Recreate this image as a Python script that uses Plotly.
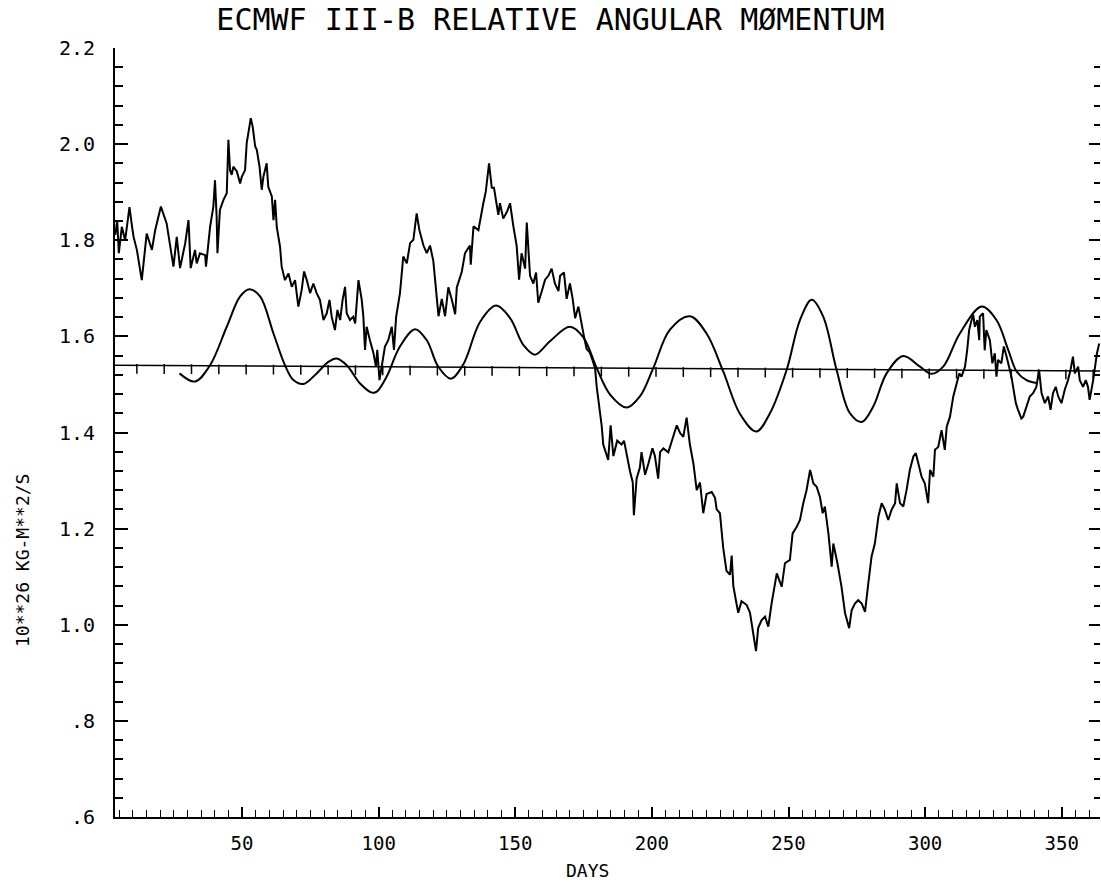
import numpy as np
import plotly.graph_objects as go

# Daily relative angular momentum (10**26 kg m^2/s)
ram_day = [3.6, 4.3, 4.9, 6.0, 7.2, 8.8, 9.7, 10.3, 11.5, 13.3, 15.1, 17.0, 18.2, 20.3, 22.4, 24.3, 24.9,
           26.1, 27.3, 29.2, 30.4, 31.2, 32.8, 33.4, 34.6, 36.5, 36.8, 38.3, 39.5, 40.1, 40.7, 41.0, 41.9,
           43.2, 44.4, 45.0, 45.6, 46.2, 46.8, 48.1, 49.3, 49.9, 51.1, 51.7, 52.3, 53.2, 53.9, 54.8, 55.4,
           56.4, 57.2, 57.8, 59.0, 59.6, 60.9, 61.5, 62.1, 62.7, 63.9, 64.5, 65.7, 67.0, 68.2, 69.4, 70.6,
           71.8, 72.7, 73.7, 74.9, 76.1, 77.3, 78.5, 79.8, 81.0, 82.0, 82.8, 84.0, 84.9, 85.9, 86.8, 87.7,
           88.3, 89.5, 90.7, 91.4, 92.2, 92.6, 93.8, 94.4, 95.0, 95.6, 96.8, 98.1, 99.0, 99.5, 100.3, 101.1,
           102.3, 103.5, 104.8, 105.6, 106.4, 107.8, 109.0, 110.3, 111.5, 112.7, 113.9, 114.9,
           116.4, 117.6, 118.8, 120.0, 121.3, 121.9, 123.1, 124.3, 125.5, 126.7, 128.0, 128.6, 130.4, 131.6,
           133.4, 133.7, 134.7, 136.5, 138.3, 139.2, 140.4, 141.4, 142.2, 143.8, 144.4, 145.6, 147.1, 148.1,
           149.3, 150.5, 151.4, 152.3, 153.6, 154.2, 155.4, 156.6, 157.6, 158.4, 159.7, 160.9, 162.1, 163.3,
           164.5, 165.8, 166.4, 167.8, 168.8, 170.0, 171.0, 171.9, 173.1, 174.3, 175.2, 176.1, 177.3, 178.3,
           179.2, 179.8, 180.8, 181.6, 182.2, 183.4, 184.0, 184.9, 185.9, 187.3, 188.9, 189.8, 190.8, 192.0,
           193.0, 193.4, 194.4, 195.6, 196.2, 197.5, 198.7, 200.2, 201.1, 202.3, 203.0, 204.2, 206.0, 207.8,
           209.1, 210.3, 211.5, 212.7, 213.9, 215.2, 216.4, 217.6, 218.8, 220.0, 221.9, 223.1, 223.7, 224.9,
           226.1, 227.3, 228.6, 229.2, 229.8, 230.8, 231.6, 232.8, 234.7, 235.9, 237.1, 238.1, 238.9, 240.1,
           241.4, 242.6, 243.8, 245.7, 247.5, 248.7, 250.5, 251.5, 253.0, 254.2, 255.4, 256.6, 257.9, 259.1,
           260.3, 261.5, 262.5, 263.3, 264.6, 265.8, 266.4, 267.9, 269.4, 270.7, 272.2, 273.1, 274.3, 275.5,
           276.8, 278.0, 279.2, 280.4, 281.6, 282.9, 284.1, 285.3, 286.5, 287.7, 289.0, 289.6, 290.8, 292.0,
           293.2, 294.4, 295.7, 296.6, 297.5, 298.7, 299.9, 301.1, 301.8, 303.0, 303.6, 304.8, 306.0, 307.2,
           307.9, 309.1, 310.3, 311.5, 312.5, 313.3, 314.6, 315.4, 316.1, 317.0, 317.6, 318.2, 319.1, 319.8,
           320.0, 321.2, 321.8, 322.4, 323.7, 324.6, 325.5, 326.1, 326.7, 327.9, 328.8, 329.8, 331.0, 331.6,
           332.2, 333.2, 334.0, 335.2, 335.9, 337.1, 338.3, 339.5, 340.7, 341.7, 342.6, 343.8, 345.0, 345.9,
           346.8, 347.8, 348.7, 349.9, 351.1, 352.3, 353.2, 354.1, 354.8, 356.0, 356.6, 357.8, 358.8, 359.6,
           360.2, 361.5, 362.1, 362.9, 363.7]
ram_val = [1.811, 1.842, 1.773, 1.828, 1.800, 1.869, 1.830, 1.807, 1.780, 1.717, 1.814, 1.780, 1.821, 1.870,
           1.835, 1.766, 1.745, 1.807, 1.742, 1.794, 1.842, 1.742, 1.780, 1.752, 1.773, 1.769, 1.745, 1.828,
           1.870, 1.925, 1.849, 1.773, 1.863, 1.884, 1.898, 2.009, 1.946, 1.936, 1.953, 1.943, 1.918, 1.932,
           1.946, 2.002, 2.022, 2.054, 2.036, 1.995, 1.988, 1.953, 1.905, 1.932, 1.960, 1.911, 1.891, 1.842,
           1.884, 1.828, 1.787, 1.745, 1.717, 1.731, 1.703, 1.717, 1.662, 1.696, 1.735, 1.717, 1.690, 1.710,
           1.690, 1.676, 1.634, 1.648, 1.676, 1.641, 1.613, 1.655, 1.634, 1.676, 1.703, 1.648, 1.634, 1.641,
           1.627, 1.696, 1.717, 1.676, 1.641, 1.572, 1.620, 1.592, 1.565, 1.537, 1.572, 1.509, 1.537, 1.579,
           1.592, 1.620, 1.572, 1.641, 1.690, 1.766, 1.752, 1.794, 1.801, 1.856, 1.821,
           1.789, 1.773, 1.789, 1.757, 1.678, 1.642, 1.678, 1.642, 1.702, 1.678, 1.646, 1.702, 1.734, 1.773,
           1.789, 1.749, 1.829, 1.821, 1.877, 1.901, 1.960, 1.909, 1.909, 1.853, 1.877, 1.845, 1.861, 1.877,
           1.829, 1.789, 1.718, 1.773, 1.741, 1.837, 1.726, 1.710, 1.733, 1.670, 1.694, 1.718, 1.726, 1.741,
           1.710, 1.694, 1.726, 1.733, 1.678, 1.710, 1.678, 1.638, 1.662, 1.622, 1.598, 1.574, 1.566, 1.550,
           1.534, 1.495, 1.455, 1.415, 1.375, 1.351, 1.343, 1.415, 1.351, 1.383, 1.375, 1.383, 1.351, 1.319,
           1.296, 1.228, 1.304, 1.327, 1.359, 1.312, 1.335, 1.367, 1.351, 1.304, 1.359, 1.367, 1.359, 1.391,
           1.415, 1.399, 1.391, 1.431, 1.375, 1.335, 1.280, 1.296, 1.232, 1.272, 1.276, 1.264, 1.240, 1.232,
           1.160, 1.112, 1.104, 1.144, 1.081, 1.049, 1.025, 1.049, 1.041, 1.025, 0.977, 0.945, 0.993, 1.009,
           1.017, 0.996, 1.044, 1.107, 1.079, 1.128, 1.135, 1.190, 1.204, 1.218, 1.253, 1.280, 1.322, 1.294,
           1.287, 1.266, 1.232, 1.246, 1.190, 1.121, 1.169, 1.128, 1.079, 1.024, 0.993, 1.030, 1.044, 1.051,
           1.044, 1.027, 1.086, 1.142, 1.169, 1.225, 1.253, 1.239, 1.218, 1.239, 1.253, 1.294, 1.253, 1.246,
           1.280, 1.322, 1.350, 1.357, 1.336, 1.308, 1.294, 1.253, 1.322, 1.308, 1.364, 1.370, 1.405, 1.364,
           1.412, 1.433, 1.475, 1.502, 1.523, 1.516, 1.537, 1.572, 1.613, 1.634, 1.645, 1.620, 1.634, 1.592,
           1.641, 1.648, 1.571, 1.613, 1.592, 1.544, 1.565, 1.516, 1.551, 1.544, 1.579, 1.558, 1.530, 1.516,
           1.495, 1.461, 1.447, 1.429, 1.433, 1.454, 1.475, 1.482, 1.495, 1.530, 1.482, 1.461, 1.475, 1.447,
           1.482, 1.495, 1.475, 1.461, 1.489, 1.509, 1.530, 1.558, 1.523, 1.537, 1.509, 1.495, 1.509, 1.495,
           1.468, 1.509, 1.537, 1.565, 1.585]

# Band-passed oscillation drawn about the mean level
osc_day = [27.1, 32.8, 38.3, 44.4, 49.3, 52.7, 56.6, 61.5, 65.7, 68.8, 72.5, 77.3, 81.6, 84.6, 88.3, 93.2,
           97.5, 99.3, 102.9, 107.8, 113.3, 117.6, 121.8, 126.4, 131.0, 137.1, 143.0, 148.1, 153.0, 157.2,
           162.7, 170.0, 174.9, 179.8, 184.7, 190.8, 195.6, 200.5, 206.6, 213.9, 220.0, 226.1, 232.2, 238.2,
           243.2, 249.3, 254.2, 258.5, 262.7, 267.6, 272.5, 276.8, 281.0, 285.9, 292.0, 298.1, 302.4, 306.6,
           312.7, 320.7, 326.1, 330.4, 333.5, 337.1, 341.0]
osc_val = [1.523, 1.506, 1.540, 1.620, 1.683, 1.698, 1.683, 1.606, 1.540, 1.509, 1.501, 1.523, 1.547, 1.554,
           1.540, 1.502, 1.483, 1.485, 1.516, 1.579, 1.615, 1.592, 1.537, 1.512, 1.542, 1.630, 1.664, 1.638,
           1.582, 1.562, 1.590, 1.620, 1.598, 1.534, 1.479, 1.452, 1.475, 1.534, 1.614, 1.642, 1.606, 1.527,
           1.439, 1.402, 1.440, 1.530, 1.634, 1.676, 1.641, 1.530, 1.440, 1.422, 1.454, 1.523, 1.559, 1.537,
           1.522, 1.537, 1.606, 1.662, 1.634, 1.572, 1.527, 1.509, 1.503]

# Linear trend of the series
trend_day = [3.5, 364.0]
trend_val = [1.540, 1.528]

x_range = [3.5, 364.0]
y_range = [0.6, 2.2]
x_tick_vals = [50, 100, 150, 200, 250, 300, 350]
x_tick_text = ["50", "100", "150", "200", "250", "300", "350"]
y_tick_vals = [0.6, 0.8, 1.0, 1.2, 1.4, 1.6, 1.8, 2.0, 2.2]
y_tick_text = [".6", ".8", "1.0", "1.2", "1.4", "1.6", "1.8", "2.0", "2.2"]

W, H = 1101, 882
M_L, M_R, M_T, M_B = 115, 1, 48, 65
plot_h = H - M_T - M_B
FONT = "DejaVu Sans Mono"
INK = "black"

y_minor = list(np.round(np.arange(0.64, 2.2, 0.04), 2))

fig = go.Figure()

fig.add_trace(go.Scatter(x=trend_day, y=trend_val, mode="lines",
                         line=dict(color=INK, width=1.6), hoverinfo="skip"))

# small day marks hanging below the trend line every ten days
mark_days = np.arange(11.5, 364.0, 10.0)
mark_len = 7
mark_shift = (mark_len / 2) * (y_range[1] - y_range[0]) / plot_h
mark_y = np.interp(mark_days, trend_day, trend_val) - mark_shift
fig.add_trace(go.Scatter(x=mark_days, y=mark_y, mode="markers",
                         marker=dict(symbol="line-ns", size=mark_len,
                                     line=dict(color=INK, width=1.5)),
                         hoverinfo="skip"))

fig.add_trace(go.Scatter(x=osc_day, y=osc_val, mode="lines",
                         line=dict(color=INK, width=2, shape="spline", smoothing=1.0)))

fig.add_trace(go.Scatter(x=ram_day, y=ram_val, mode="lines",
                         line=dict(color=INK, width=2)))

# carrier for the right-hand tick column
fig.add_trace(go.Scatter(x=[None], y=[None], yaxis="y2", mode="lines", hoverinfo="skip"))

fig.update_layout(
    width=W, height=H,
    margin=dict(l=M_L, r=M_R, t=M_T, b=M_B),
    paper_bgcolor="white", plot_bgcolor="white",
    showlegend=False,
    font=dict(family=FONT, color=INK),
    title=dict(text="ECMWF III-B RELATIVE ANGULAR MØMENTUM",
               font=dict(family=FONT, size=30, color=INK),
               x=0.5, xref="container", xanchor="center",
               y=1 - 19 / H, yref="container", yanchor="middle"),
    xaxis=dict(range=x_range, showgrid=False, zeroline=False,
               showline=True, linecolor=INK, linewidth=2,
               tickmode="array", tickvals=x_tick_vals, ticktext=x_tick_text,
               ticks="inside", ticklen=10, tickwidth=1.6, tickcolor=INK,
               ticklabelstandoff=8,
               tickfont=dict(family=FONT, size=19, color=INK),
               minor=dict(dtick=5, tick0=0, ticks="inside", ticklen=7,
                          tickwidth=1.4, tickcolor=INK, showgrid=False)),
    yaxis=dict(range=y_range, showgrid=False, zeroline=False,
               showline=True, linecolor=INK, linewidth=2,
               tickmode="array", tickvals=y_tick_vals, ticktext=y_tick_text,
               ticks="inside", ticklen=13, tickwidth=1.8, tickcolor=INK,
               ticklabelstandoff=14,
               tickfont=dict(family=FONT, size=20, color=INK),
               minor=dict(tickmode="array", tickvals=y_minor, ticks="inside",
                          ticklen=8, tickwidth=1.6, tickcolor=INK, showgrid=False)),
    yaxis2=dict(range=y_range, overlaying="y", side="right", showgrid=False,
                zeroline=False, showline=False, showticklabels=False,
                tickmode="array", tickvals=y_tick_vals,
                ticks="inside", ticklen=11, tickwidth=2, tickcolor=INK,
                minor=dict(tickmode="array", tickvals=y_minor, ticks="inside",
                           ticklen=6, tickwidth=2, tickcolor=INK, showgrid=False)),
    annotations=[
        dict(text="DAYS", xref="paper", yref="paper", x=0.48, y=-(870 - (H - M_B)) / plot_h,
             xanchor="center", yanchor="middle", showarrow=False,
             font=dict(family=FONT, size=18, color=INK)),
        dict(text="10**26 KG-M**2/S", xref="paper", yref="paper",
             x=(22 - M_L) / (W - M_L - M_R), y=((H - M_B) - 561) / plot_h,
             xanchor="center", yanchor="middle", textangle=-90, showarrow=False,
             font=dict(family=FONT, size=18, color=INK)),
    ],
)

fig.write_html("out.html")
